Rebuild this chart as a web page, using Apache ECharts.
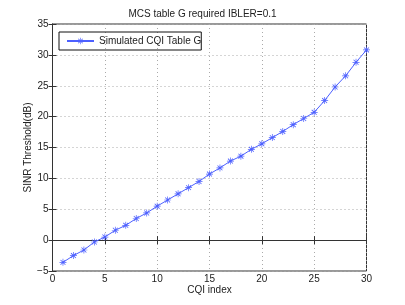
<!DOCTYPE html>
<html><head><meta charset="utf-8">
<script src="https://cdn.jsdelivr.net/npm/echarts@6/dist/echarts.min.js"></script>
<style>html,body{margin:0;padding:0;background:#fff}#c{width:405px;height:305px}</style>
</head><body><div id="c"></div>
<script>
var titleText = 'MCS table G required IBLER=0.1';
var seriesName = 'Simulated CQI Table G';
var xName = 'CQI index';
var yName = 'SINR Threshold(dB)';
var cqi = [1,2,3,4,5,6,7,8,9,10,11,12,13,14,15,16,17,18,19,20,21,22,23,24,25,26,27,28,29,30];
var sinr = [-3.6,-2.5,-1.6,-0.3,0.5,1.6,2.4,3.5,4.4,5.5,6.5,7.5,8.5,9.5,10.7,11.7,12.8,13.6,14.7,15.6,16.6,17.6,18.7,19.7,20.7,22.6,24.8,26.6,28.8,30.8];

var star = 'path://M0 4.5L10 4.5L10 5.5L0 5.5Z M4.5 0L5.5 0L5.5 10L4.5 10Z M1.1 1.9L1.9 1.1L8.9 8.1L8.1 8.9Z M8.1 1.1L8.9 1.9L1.9 8.9L1.1 8.1Z';
var font = 'Liberation Sans';
var axisCol = '#333';
var chart = echarts.init(document.getElementById('c'), null, {renderer:'canvas'});
var data = cqi.map(function(x,i){return [x, sinr[i]];});
var hidden = {show:false};
chart.setOption({
  animation:false,
  title:{text:titleText,left:'center',top:4,textStyle:{fontFamily:font,fontSize:10,fontWeight:'normal',color:'#222'}},
  legend:{left:59,top:32,orient:'vertical',borderColor:'#111',borderWidth:1,padding:[4,0,4,7],itemWidth:27,itemHeight:8,itemGap:0,
    textStyle:{fontFamily:font,fontSize:10,color:'#222'},data:[seriesName]},
  grid:{left:52.5,right:38.5,top:24,bottom:34,show:true,borderColor:axisCol,borderWidth:1,backgroundColor:'#fff'},
  xAxis:[{type:'value',min:0,max:30,interval:5,name:xName,nameLocation:'middle',nameGap:14,nameMoveOverlap:false,
    nameTextStyle:{fontFamily:font,fontSize:10,color:'#222'},
    axisLine:{show:true,lineStyle:{color:axisCol}},axisTick:{inside:true,length:4,lineStyle:{color:axisCol}},
    axisLabel:{fontFamily:font,fontSize:10,color:'#222',margin:3},
    splitLine:{show:true,lineStyle:{color:'#aaa',type:[1,3],width:1}}},
    {type:'value',position:'top',min:0,max:30,interval:5,axisLine:{show:true,lineStyle:{color:axisCol}},
    axisTick:{inside:true,length:4,lineStyle:{color:axisCol}},axisLabel:hidden,splitLine:hidden}],
  yAxis:[{type:'value',min:-5,max:35,interval:5,name:yName,nameLocation:'middle',nameGap:19,nameMoveOverlap:false,
    nameTextStyle:{fontFamily:font,fontSize:10,color:'#222'},
    axisLine:{show:true,lineStyle:{color:axisCol}},axisTick:{inside:true,length:4,lineStyle:{color:axisCol}},
    axisLabel:{fontFamily:font,fontSize:10,color:'#222',margin:4,formatter:function(v){return v<0?'\u2212'+(-v):String(v);}},
    splitLine:{show:true,lineStyle:{color:'#aaa',type:[1,3],width:1}}},
    {type:'value',position:'right',min:-5,max:35,interval:5,axisLine:{show:true,lineStyle:{color:axisCol}},
    axisTick:{inside:true,length:4,lineStyle:{color:axisCol}},axisLabel:hidden,splitLine:hidden}],
  series:[{name:seriesName,type:'line',data:data,xAxisIndex:0,yAxisIndex:0,symbol:star,symbolSize:7,showAllSymbol:true,
    lineStyle:{color:'#4d60ff',width:1},itemStyle:{color:'#4d60ff'}}]
});
</script></body></html>
